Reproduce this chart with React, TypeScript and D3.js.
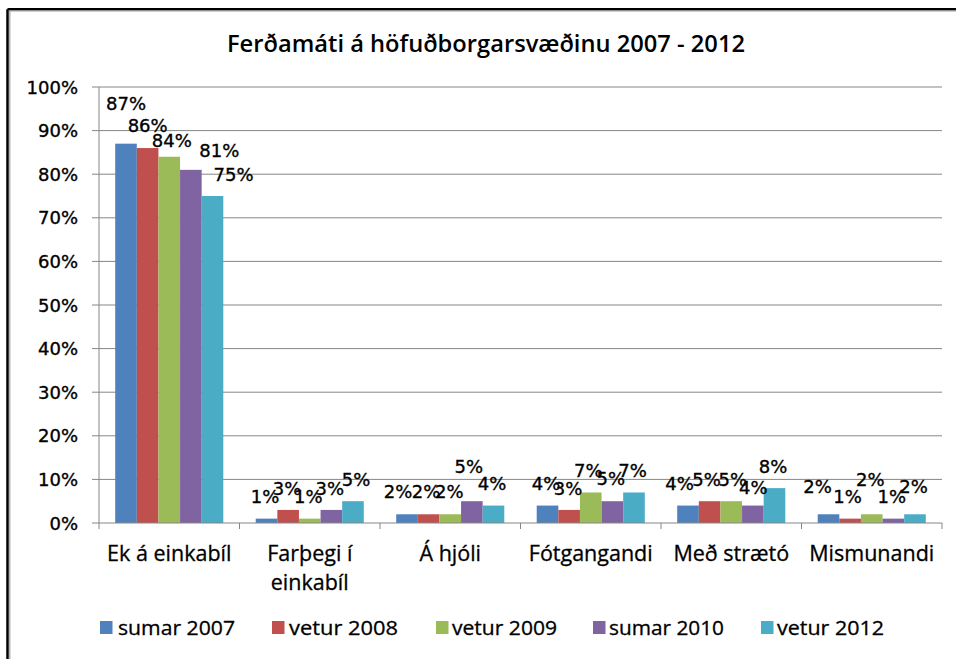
import React from "react";
import * as d3 from "d3";

const title = "Ferðamáti á höfuðborgarsvæðinu 2007 - 2012";
const categories = ["Ek á einkabíl", "Farþegi í einkabíl", "Á hjóli", "Fótgangandi", "Með strætó", "Mismunandi"];
const categoryLines = [["Ek á einkabíl"], ["Farþegi í", "einkabíl"], ["Á hjóli"], ["Fótgangandi"], ["Með strætó"], ["Mismunandi"]];
const seriesNames = ["sumar 2007", "vetur 2008", "vetur 2009", "sumar 2010", "vetur 2012"];
const sumar2007 = [87, 1, 2, 4, 4, 2];
const vetur2008 = [86, 3, 2, 3, 5, 1];
const vetur2009 = [84, 1, 2, 7, 5, 2];
const sumar2010 = [81, 3, 5, 5, 4, 1];
const vetur2012 = [75, 5, 4, 7, 8, 2];
const seriesValues = [sumar2007, vetur2008, vetur2009, sumar2010, vetur2012];
const yTicks = [0, 10, 20, 30, 40, 50, 60, 70, 80, 90, 100];

const colors = ["#4F81BD", "#C0504D", "#9BBB59", "#8064A2", "#4BACC6"];

// label nudges (layout only): [dx, dy] relative to default placement above each bar
const labelNudge = [
  [[1.5, -18.4], [0, 0], [-7.5, -0.7], [0, 0], [-7, 0], [-9.5, -5.7]],
  [[1.5, -0.7], [0.5, 0.3], [-1, -0.7], [0.5, 0.3], [-1.5, 0], [-1, 0]],
  [[4, 5.3], [0, 0], [0.5, -0.7], [-1, 0], [3, 0], [0, -13]],
  [[30, 2.5], [0, 0.3], [-1.5, -12.7], [0, -0.7], [2, 3.5], [0, 0]],
  [[22.5, 0], [4.5, 0], [0, 0], [0, 0], [0, 0], [0, -5.7]],
];

const legendLayout = [
  { sx: 100, tx: 118, tw: 117 },
  { sx: 272, tx: 289, tw: 109 },
  { sx: 436, tx: 452, tw: 105 },
  { sx: 593, tx: 609, tw: 115 },
  { sx: 761, tx: 777, tw: 107 },
];

const catFont = "'Open Sans', 'Noto Sans', Arial, sans-serif";
const numFont = "'DejaVu Sans', Verdana, sans-serif";

export default function App() {
  const W = 956, H = 659;
  const left = 99, right = 942, top = 87, bottom = 523;
  const x0 = d3.scaleBand<number>().domain(d3.range(categories.length)).range([left, right]).padding(0);
  const x1 = d3.scaleBand<number>().domain(d3.range(seriesNames.length)).range([0, x0.bandwidth()]).paddingInner(0).paddingOuter(0.75);
  const y = d3.scaleLinear().domain([0, 100]).range([bottom, top]);
  const grid = "#868686";
  const boundaries = d3.range(categories.length + 1).map((i) => left + i * x0.step());
  const heavy = { stroke: "#000", strokeWidth: 0.35 };

  return (
    <svg width={W} height={H} style={{ position: "absolute", left: 0, top: 0, background: "#fff" }}>
      <rect x={0} y={0} width={W} height={H} fill="#fff" />
      {/* border */}
      <line x1={7.5} y1={9.3} x2={W} y2={9.3} stroke="#000" strokeWidth={2.5} />
      <line x1={7.5} y1={9.3} x2={7.5} y2={H} stroke="#000" strokeWidth={2.5} />
      <line x1={9} y1={11} x2={W} y2={11} stroke="#a0a0a0" strokeWidth={1.2} />
      <line x1={9.8} y1={11} x2={9.8} y2={H} stroke="#a0a0a0" strokeWidth={1.2} />

      {/* title */}
      <text x={486} y={52} textAnchor="middle" fontFamily={catFont} fontWeight={600} fontSize={22.5} fill="#000"
        textLength={518} lengthAdjust="spacingAndGlyphs">{title}</text>

      {/* gridlines */}
      {yTicks.map((t) => (
        <g key={t}>
          {t > 0 && <line x1={left} x2={right} y1={y(t)} y2={y(t)} stroke={grid} strokeWidth={1} />}
          <line x1={92} x2={left} y1={y(t)} y2={y(t)} stroke={grid} strokeWidth={1} />
          <text x={78} y={y(t) + 6.5} textAnchor="end" fontFamily={numFont} fontSize={18} fill="#000" {...heavy}>{t}%</text>
        </g>
      ))}

      {/* bars */}
      {categories.map((c, ci) => (
        <g key={c} transform={`translate(${x0(ci)},0)`}>
          {seriesValues.map((vals, si) => (
            <rect key={si} x={x1(si)} y={y(vals[ci])} width={x1.bandwidth()} height={bottom - y(vals[ci])} fill={colors[si]} />
          ))}
        </g>
      ))}

      {/* axes */}
      <line x1={left} x2={left} y1={top} y2={bottom} stroke={grid} strokeWidth={1} />
      <line x1={left} x2={right} y1={bottom} y2={bottom} stroke={grid} strokeWidth={1} />
      {boundaries.map((bx, i) => (
        <line key={i} x1={bx} x2={bx} y1={bottom} y2={bottom + 6} stroke={grid} strokeWidth={1} />
      ))}

      {/* data labels */}
      {categories.map((c, ci) => (
        <g key={c}>
          {seriesValues.map((vals, si) => {
            const cx = (x0(ci) as number) + (x1(si) as number) + x1.bandwidth() / 2;
            const [ndx, ndy] = labelNudge[si][ci];
            return (
              <text key={si} x={cx - 1.5 + ndx} y={y(vals[ci]) - 15.3 + ndy} textAnchor="middle"
                fontFamily={numFont} fontSize={18} fill="#000" {...heavy}>{vals[ci]}%</text>
            );
          })}
        </g>
      ))}

      {/* category labels */}
      {categoryLines.map((lines, ci) => (
        <g key={ci}>
          {lines.map((ln, li) => (
            <text key={li} x={(x0(ci) as number) + x0.bandwidth() / 2} y={561 + li * 29} textAnchor="middle"
              fontFamily={catFont} fontSize={21.5} fill="#000" stroke="#000" strokeWidth={0.3}>{ln}</text>
          ))}
        </g>
      ))}

      {/* legend */}
      {seriesNames.map((n, si) => (
        <g key={n}>
          <rect x={legendLayout[si].sx} y={621} width={12.5} height={13} fill={colors[si]} />
          <text x={legendLayout[si].tx} y={635} fontFamily={catFont} fontSize={19.5} fill="#000" stroke="#000" strokeWidth={0.3}
            textLength={legendLayout[si].tw} lengthAdjust="spacingAndGlyphs">{n}</text>
        </g>
      ))}
    </svg>
  );
}
